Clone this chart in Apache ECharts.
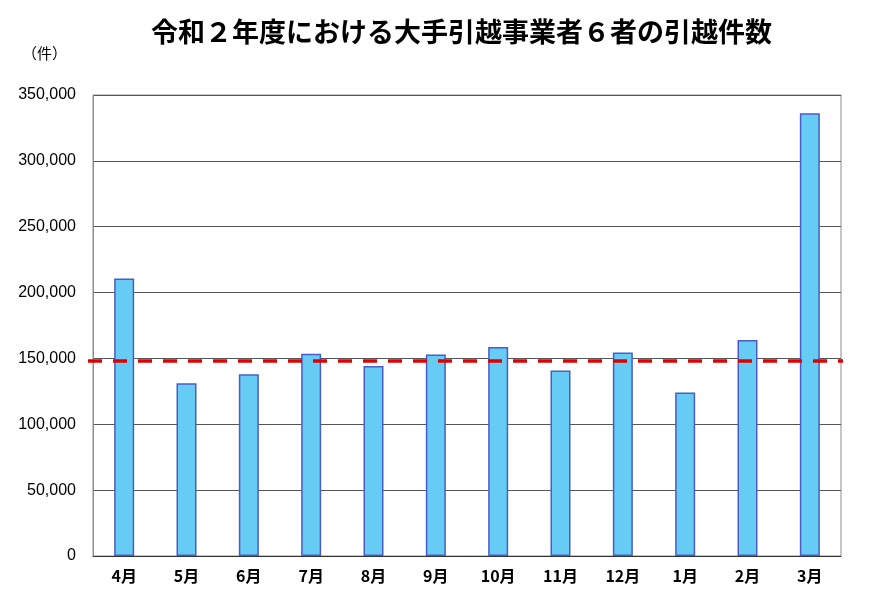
<!DOCTYPE html>
<html><head><meta charset="utf-8">
<script src="https://cdn.jsdelivr.net/npm/echarts@6/dist/echarts.min.js"></script>
<style>html,body{margin:0;padding:0;background:#fff}#c{width:870px;height:594px}</style>
</head><body><div id="c"></div>
<script>
const categories = ['4月','5月','6月','7月','8月','9月','10月','11月','12月','1月','2月','3月'];
const moves = [210600,131100,137900,153500,144200,153000,158600,140900,154500,124200,163900,336100];
const refLine = 148000;
const yTicks = {min:0, max:350000, interval:50000};

const chart = echarts.init(document.getElementById('c'));
chart.setOption({
  animation:false,
  title:{text:'令和２年度における大手引越事業者６者の引越件数', left:146, top:13,
    textStyle:{fontFamily:'Noto Sans CJK JP', fontSize:27, fontWeight:'bold', color:'#000'}},
  grid:{left:93, right:29, top:95, bottom:38, show:true, borderColor:'#8c8c8c', borderWidth:1},
  xAxis:{type:'category', data:categories,
    axisLine:{lineStyle:{color:'#333', width:1}}, axisTick:{show:false},
    axisLabel:{color:'#000', fontSize:16, fontWeight:'bold', fontFamily:'Noto Sans CJK JP', margin:12}},
  yAxis:{type:'value', min:yTicks.min, max:yTicks.max, interval:yTicks.interval,
    name:'（件）', nameLocation:'end', nameGap:34,
    nameTextStyle:{color:'#000', fontSize:15, fontFamily:'Noto Sans CJK JP', align:'right', padding:[0,26,0,0]},
    axisLine:{show:true, lineStyle:{color:'#8c8c8c'}}, axisTick:{show:false},
    splitLine:{lineStyle:{color:'#555', width:1}},
    axisLabel:{color:'#000', fontSize:16, fontFamily:'Liberation Sans', margin:17,
      formatter:v=>v.toLocaleString('en-US')}},
  series:[{type:'bar', data:moves, barWidth:20,
    itemStyle:{color:'#66ccf4', borderColor:'#4b5cc8', borderWidth:1.5},
    markLine:{symbol:'none', silent:true, label:{show:false},
      lineStyle:{color:'#e00000', type:[14,11], width:3.5},
      data:[[{coord:[-0.5,refLine], x:88},{x:843, y:null, coord:[11.5,refLine]}]]}}]
});
</script></body></html>
